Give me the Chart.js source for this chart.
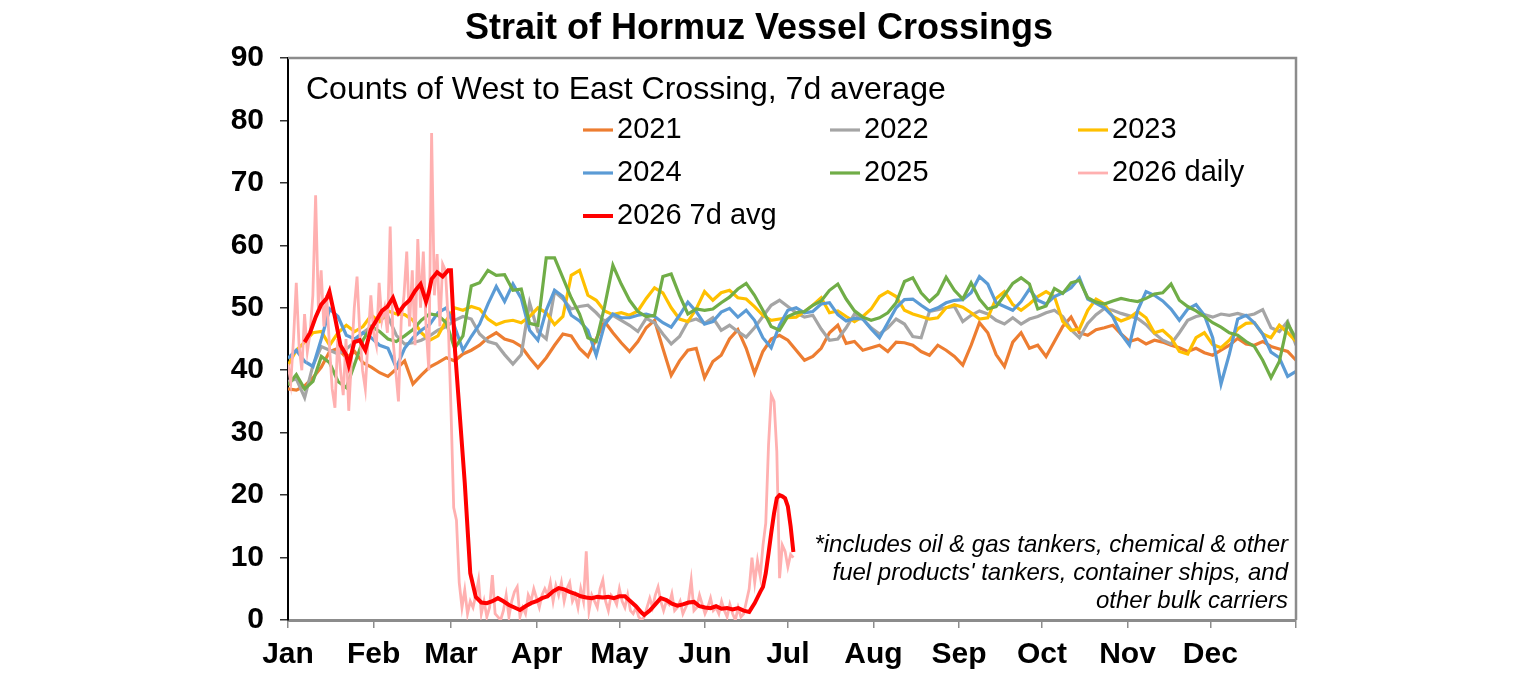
<!DOCTYPE html>
<html>
<head>
<meta charset="utf-8">
<script src="https://cdn.jsdelivr.net/npm/chart.js@4.4.0/dist/chart.umd.min.js"></script>
<style>
  html, body { margin: 0; padding: 0; background: #fff; }
  canvas { display: block; }
</style>
</head>
<body>
<canvas id="myChart" width="1536" height="680"></canvas>
<script>
// month axis
var monthStarts = [0, 31, 59, 90, 120, 151, 181, 212, 243, 273, 304, 334, 365];
var monthNames = ["Jan", "Feb", "Mar", "Apr", "May", "Jun", "Jul", "Aug", "Sep", "Oct", "Nov", "Dec", ""];
var yTicks = [0, 10, 20, 30, 40, 50, 60, 70, 80, 90];

// 7d averages, read roughly every 3 days across the year
var y2021 = [37, 36.8, 37.5, 38.8, 40.5, 43, 43.5, 42, 43, 41.2, 40.5, 39.6, 39, 40.2, 41.5, 37.8, 39.2, 40.5, 41.2, 42,
  41.5, 42.6, 43.2, 44, 45.2, 46, 45, 44.6, 43.8, 42, 40.4, 42, 44, 45.8, 45.5, 43.5, 42.2, 45, 47.8, 46,
  44.4, 43, 44.6, 46.8, 48, 43.5, 39.2, 41.5, 43.2, 43.5, 38.8, 41.4, 42.4, 45, 46.5, 43.5, 39.5, 43, 45, 45.6,
  44.8, 43.2, 41.6, 42.2, 43.5, 46, 47.2, 44.3, 44.6, 43.2, 43.6, 44, 43, 44.5, 44.4, 44, 43, 42.4, 44, 43.2,
  42.2, 40.8, 44, 47.6, 46, 42.5, 40.6, 44.5, 46, 43.5, 44, 42.2, 44.6, 47, 48.5, 46, 45.6, 46.5, 46.8, 47.2,
  45.8, 44.6, 45, 44.2, 44.8, 44.5, 44, 43.6, 43, 43.5, 42.8, 42.4, 43.2, 44, 45.1, 44.2, 44, 44.6, 43.8, 43.4,
  43, 41.6];
var y2022 = [38.2, 38.6, 35.6, 40.8, 43.8, 43.2, 42.6, 43.4, 44.5, 46, 47, 48.2, 48.6, 45.6, 44.2, 44.4, 44.8, 45.5, 46.4, 47,
  48, 48.6, 48.2, 45.8, 44.6, 44.2, 42.5, 41, 42.5, 50.8, 46.2, 45, 52.6, 51.4, 49.8, 50.2, 50.4, 49.2, 47.8, 48.8,
  48, 47.2, 46.2, 48.3, 47.6, 45.8, 44.2, 45.4, 47.8, 48.2, 47.5, 48.4, 46.4, 47.2, 46.2, 45.3, 46.8, 48.6, 50.4, 51.2,
  50.2, 49.2, 48.5, 48.8, 46.6, 44.8, 45, 46.8, 49, 48.2, 46.8, 45.8, 46.8, 48.2, 47.4, 45.4, 45.2, 49.4, 49.7, 50,
  50.2, 47.8, 48.8, 49.5, 49, 48, 47.4, 48.4, 47.4, 48.2, 48.6, 49.2, 49.6, 48.6, 46.5, 45.2, 47.5, 48.9, 49.9, 49.6,
  49.1, 48.7, 48.3, 47.3, 45.9, 44.8, 44.2, 46, 48, 48.6, 48.9, 48.5, 49, 48.8, 49.1, 48.7, 49, 49.7, 46.8, 46.2,
  47.8, 44];
var y2023 = [40.8, 43.2, 44.5, 46, 46.2, 44, 46, 47.2, 46.2, 47, 48.8, 47.8, 49.5, 49, 48.9, 48, 46, 44.8, 45.5, 48,
  50, 49.6, 50.2, 49.8, 48.2, 47.3, 47.8, 48, 47.6, 48.6, 50, 49.2, 47.3, 48.6, 55.2, 56, 52, 51.2, 49.5, 48.9,
  49.2, 48.8, 49.5, 51.5, 53.2, 52.4, 50, 48.2, 47.8, 49.8, 52.6, 51.2, 52.4, 52.8, 51.6, 51.4, 50.2, 48.8, 48, 48.2,
  48.4, 48.5, 49.4, 50.4, 51.6, 49.2, 49.5, 48.6, 47.8, 48.6, 49.8, 51.8, 52.6, 51.8, 49.6, 49, 48.6, 48.2, 48.4, 50,
  50.5, 50.1, 49.2, 48.2, 48.4, 51.5, 52.6, 50.5, 49.6, 50.6, 51.8, 52.6, 51.8, 47.8, 46.4, 46.6, 49.6, 51.4, 50.6, 48.6,
  47.9, 48.4, 49.4, 48.4, 46, 46.4, 45.2, 43, 42.6, 45.2, 46, 44.1, 43.6, 44.8, 46.6, 47.5, 47.6, 45.8, 45.2, 47.2,
  46, 44.6];
var y2024 = [41.9, 43.2, 41.4, 40.6, 45, 49.8, 48.6, 45.6, 45, 46, 45.2, 44, 43.5, 40.4, 43.5, 45.2, 46.4, 47.3, 49.2, 50,
  47, 43.2, 45.4, 47.4, 50.6, 53.4, 51, 53.8, 51.5, 46.4, 44.8, 49.6, 52.8, 51.8, 48.8, 47.9, 46.4, 42.4, 47.3, 49,
  48.4, 48.4, 48.8, 49, 48.6, 47.6, 46.9, 48.8, 50.9, 49.4, 47.4, 47.8, 49.3, 49.9, 48.5, 49.6, 48, 45.2, 43.6, 47.2,
  49.6, 50, 49.2, 49.4, 50.6, 50.8, 48.9, 47.9, 48.3, 48.2, 46.6, 45.2, 47.6, 50, 51.3, 51.4, 50.4, 49.5, 50, 50.8,
  51.2, 51.3, 52.4, 55, 53.8, 50.8, 50.2, 49.6, 51, 53, 51.2, 50.6, 51.8, 52.4, 53.2, 54.8, 51.4, 50.7, 50, 48.6,
  45.8, 44, 49.6, 52.6, 52, 51.1, 49.8, 48, 49.8, 50.5, 48.8, 45.2, 37.8, 42.6, 48.2, 48.8, 47.6, 45.8, 42.9, 42,
  39, 39.8];
var y2025 = [37.6, 39.3, 37, 38.2, 42.2, 41.2, 38.2, 37.2, 41, 44.8, 47, 46.2, 45, 44.6, 45.5, 46.5, 48, 49, 48.8, 47.6,
  43.5, 45.5, 53.5, 54, 56, 55.2, 55.3, 52.8, 53, 47.5, 47.2, 58, 58, 54.8, 51.6, 49, 45.2, 44.6, 50.2, 56.8,
  53.8, 51.2, 49.4, 48.6, 48.8, 55, 55.4, 52, 49, 49.8, 49.6, 49.8, 50.8, 51.7, 53, 53.9, 52, 49.6, 47, 46.4,
  48.6, 49.2, 49.4, 50.4, 51.1, 52.8, 53.8, 51.4, 49.5, 48.5, 48, 48.4, 49.2, 50.8, 54.2, 54.8, 52.4, 51, 52.2, 54.9,
  52.8, 51.4, 54, 51.4, 49.8, 50.2, 52, 53.9, 54.8, 53.8, 49.8, 50.3, 53.1, 52.3, 54, 54.4, 51.6, 50.9, 50.6, 51.1,
  51.5, 51.2, 51, 51.5, 52.2, 52.4, 53.8, 51.2, 50.2, 49.5, 48.6, 47.6, 46.9, 46, 45.6, 44.6, 43.8, 41.6, 38.8, 41.4,
  47.5, 45];

// 2026 daily counts, Jan 1 to Jul 3
var daily2026 = [41, 38, 45, 54, 44, 40, 49, 43, 46, 52, 68, 50, 56, 47, 52, 44, 37, 34, 45, 40,
  36, 45, 33.5, 42, 50, 55, 46, 40, 37, 45, 52, 46, 44, 54, 48, 50, 46, 63, 45, 40,
  35, 48, 52, 59, 47, 56, 44, 61, 50, 59, 47, 40, 78, 52, 58.6, 47, 57, 56, 48, 34,
  18, 16, 6, 2, 4.8, 1, 3, 2, 4, 6.4, 1, 3, 0.5, 2, 7.2, 1, 0.5, 0, 1.5, 4,
  0.5, 3, 4.5, 5.3, 0.5, 2, 1, 4, 3, 5, 3.5, 2, 4, 5, 4, 6, 3, 5.5, 4, 6,
  3, 5, 6, 3, 4, 2, 5, 3, 11, 1.5, 4, 3, 2, 5, 6.4, 3, 1.5, 4, 3.5, 2.5,
  5, 3, 2, 4, 1.5, 1, 2, 0.5, 0, 0.5, 2, 3.5, 2, 4, 5.3, 3, 1.5, 3, 2.5, 4.2,
  1.5, 2, 3, 1, 2, 3, 6.4, 1.5, 2, 4, 2.5, 1, 2, 3.5, 1.5, 2, 1, 3, 1.5, 0.5,
  2.5, 1, 0, 2, 0.5, 1, 3, 5, 10, 6, 9.5, 7, 12, 15.5, 28, 36, 35, 27, 6.7, 12,
  11, 8.5, 10.5, 10];

// 2026 7d average
var avgDays = [6, 8, 10, 12, 14, 15, 17, 19, 21, 22, 24, 26, 28, 30, 32, 34, 36, 38, 40, 42,
  44, 46, 48, 50, 51, 52, 54, 56, 58, 59, 60.5, 62, 64, 66, 68, 70, 72, 74, 76, 78,
  80, 82, 84, 86, 88, 90, 92, 94, 96, 98, 100, 102, 104, 106, 108, 110, 112, 114, 116, 118,
  120, 122, 124, 126, 128, 129, 131, 133, 135, 137, 139, 141, 143, 145, 147, 149, 151, 153, 155, 157,
  159, 161, 163, 165, 167, 169, 171, 172, 173, 174, 175, 176, 177, 178, 179, 180, 181, 182, 183];
var avgVals = [44.5, 46, 48.5, 50.5, 51.5, 52.6, 48.5, 44, 42.5, 40.8, 44.5, 44.8, 43.2, 46.5, 48, 49.5, 50.2, 51.6, 49.2, 50.4,
  51.2, 52.7, 53.8, 51, 52.5, 54.6, 55.7, 55, 56, 56, 43, 34, 22, 7.5, 3.7, 2.8, 2.7, 3, 3.5, 3,
  2.4, 2, 1.6, 2.2, 2.7, 3, 3.5, 3.8, 4.6, 5.1, 4.9, 4.5, 4.2, 3.8, 3.6, 3.5, 3.7, 3.6, 3.7, 3.5,
  3.8, 3.8, 3, 2.2, 1.2, 0.8, 1.5, 2.5, 3.5, 3.2, 2.6, 2.3, 2.5, 2.8, 2.9, 2.2, 2, 1.9, 2.2, 1.8,
  1.9, 1.7, 1.9, 1.5, 1.3, 2.7, 4.5, 5.3, 7.5, 10.7, 14, 17.1, 19.5, 20, 19.8, 19.5, 18.2, 15, 10.9];

var title = "Strait of Hormuz Vessel Crossings";
var subtitle = "Counts of West to East Crossing, 7d average";
var footnote = ["*includes oil & gas tankers, chemical & other",
  "fuel products' tankers, container ships, and",
  "other bulk carriers"];

var FONT = "'Liberation Sans', Arial, sans-serif";

function yearPoints(vals) {
  return vals.map(function(v, i) { return { x: i * 365 / (vals.length - 1), y: v }; });
}

function line(label, data, color, width, order) {
  return {
    label: label,
    data: data,
    borderColor: color,
    backgroundColor: color,
    borderWidth: width,
    pointRadius: 0,
    tension: 0,
    fill: false,
    order: order
  };
}

var decor = {
  id: 'decor',
  afterDatasetsDraw: function(chart) {
    var ctx = chart.ctx;
    var a = chart.chartArea;
    ctx.save();
    // top and right frame
    ctx.strokeStyle = '#8c8c8c';
    ctx.lineWidth = 2.5;
    ctx.beginPath();
    ctx.moveTo(a.left, a.top);
    ctx.lineTo(a.right, a.top);
    ctx.lineTo(a.right, a.bottom);
    ctx.stroke();
    ctx.restore();
  },
  afterDraw: function(chart) {
    var ctx = chart.ctx;
    ctx.save();
    ctx.fillStyle = '#000';
    ctx.textBaseline = 'middle';

    ctx.font = "bold 36px " + FONT;
    ctx.textAlign = 'center';
    ctx.fillText(title, 759, 29);

    ctx.font = "32px " + FONT;
    ctx.textAlign = 'left';
    ctx.fillText(subtitle, 306, 90);

    // legend, three columns inside the plot
    var cols = [583, 830, 1078];
    var rows = [130, 173, 216];
    ctx.font = "29px " + FONT;
    chart.data.datasets.forEach(function(ds, i) {
      var cx = cols[i % 3];
      var cy = rows[Math.floor(i / 3)];
      ctx.strokeStyle = ds.borderColor;
      ctx.lineWidth = ds.borderWidth;
      ctx.beginPath();
      ctx.moveTo(cx, cy);
      ctx.lineTo(cx + 30, cy);
      ctx.stroke();
      ctx.fillText(ds.label, cx + 34, cy);
    });

    ctx.font = "italic 24px " + FONT;
    ctx.textAlign = 'right';
    footnote.forEach(function(t, i) {
      ctx.fillText(t, 1288, 545 + i * 28);
    });
    ctx.restore();
  }
};

var ctx = document.getElementById('myChart').getContext('2d');
var chart = new Chart(ctx, {
  type: 'line',
  data: {
    datasets: [
      line('2021', yearPoints(y2021), '#ED7D31', 3.2, 7),
      line('2022', yearPoints(y2022), '#A5A5A5', 3.2, 6),
      line('2023', yearPoints(y2023), '#FFC000', 3.2, 5),
      line('2024', yearPoints(y2024), '#5B9BD5', 3.2, 4),
      line('2025', yearPoints(y2025), '#70AD47', 3.2, 3),
      line('2026 daily', daily2026.map(function(v, i) { return { x: i, y: v }; }), '#FFB0B0', 2.8, 2),
      line('2026 7d avg', avgDays.map(function(d, i) { return { x: d, y: avgVals[i] }; }), '#FF0000', 4, 1)
    ]
  },
  options: {
    responsive: false,
    animation: false,
    layout: { padding: { left: 222, right: 240, top: 58, bottom: 0 } },
    plugins: {
      legend: { display: false },
      title: { display: false },
      tooltip: { enabled: false }
    },
    scales: {
      x: {
        type: 'linear',
        min: 0,
        max: 365,
        afterBuildTicks: function(axis) {
          axis.ticks = monthStarts.map(function(v) { return { value: v }; });
        },
        afterFit: function(s) { s.height = 60; },
        ticks: {
          autoSkip: false,
          maxRotation: 0,
          padding: 9,
          color: '#000',
          font: { family: FONT, size: 30, weight: 'bold' },
          callback: function(value, index) { return monthNames[index]; }
        },
        grid: { drawOnChartArea: false, tickLength: 8, color: '#8c8c8c', lineWidth: 1.5 },
        border: { display: true, color: '#8c8c8c', width: 3 }
      },
      y: {
        min: 0,
        max: 90,
        afterBuildTicks: function(axis) {
          axis.ticks = yTicks.map(function(v) { return { value: v }; });
        },
        afterFit: function(s) { s.width = 66; },
        ticks: {
          padding: 16,
          color: '#000',
          font: { family: FONT, size: 30, weight: 'bold' }
        },
        grid: { drawOnChartArea: false, tickLength: 8, color: '#333', lineWidth: 1.5 },
        border: { display: true, color: '#000', width: 2 }
      }
    }
  },
  plugins: [decor]
});
</script>
</body>
</html>
